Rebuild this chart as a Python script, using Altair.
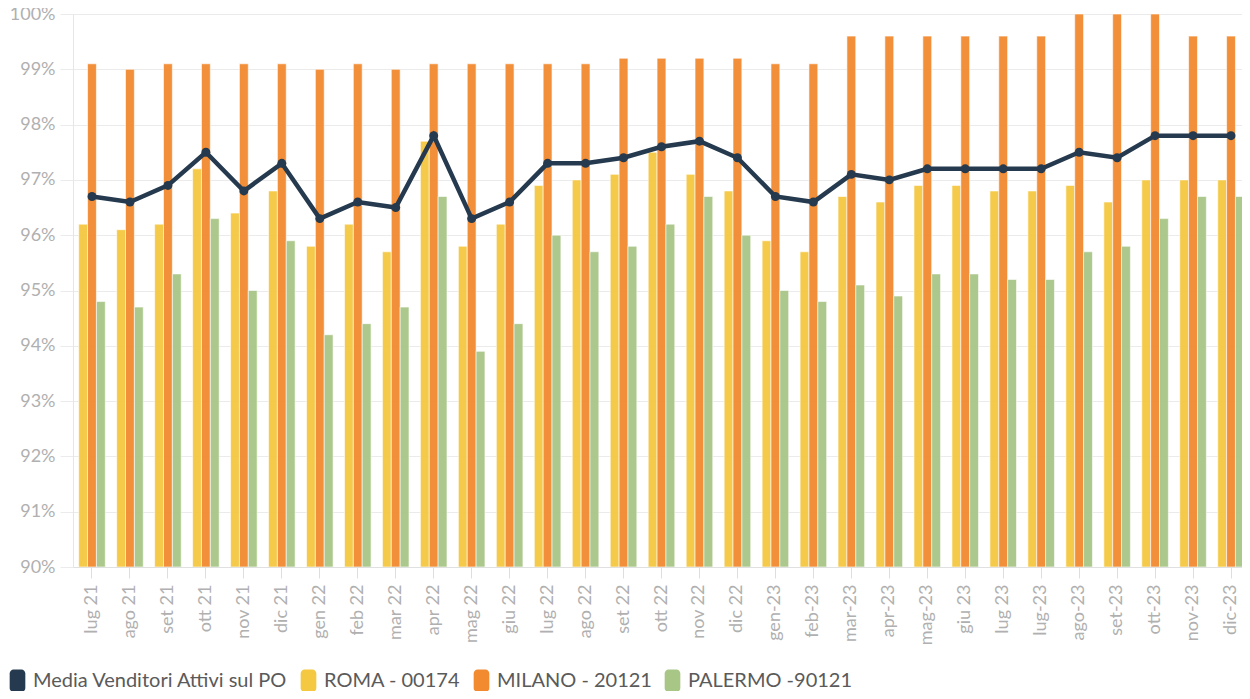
import altair as alt
import pandas as pd

months = ["lug 21", "ago 21", "set 21", "ott 21", "nov 21", "dic 21", "gen 22", "feb 22",
          "mar 22", "apr 22", "mag 22", "giu 22", "lug 22", "ago 22", "set 22", "ott 22",
          "nov 22", "dic 22", "gen-23", "feb-23", "mar-23", "apr-23", "mag-23", "giu 23",
          "lug 23", "lug-23", "ago-23", "set-23", "ott-23", "nov-23", "dic-23"]

media = [96.7, 96.6, 96.9, 97.5, 96.8, 97.3, 96.3, 96.6, 96.5, 97.8, 96.3, 96.6, 97.3, 97.3,
         97.4, 97.6, 97.7, 97.4, 96.7, 96.6, 97.1, 97.0, 97.2, 97.2, 97.2, 97.2, 97.5, 97.4,
         97.8, 97.8, 97.8]
roma = [96.2, 96.1, 96.2, 97.2, 96.4, 96.8, 95.8, 96.2, 95.7, 97.7, 95.8, 96.2, 96.9, 97.0,
        97.1, 97.5, 97.1, 96.8, 95.9, 95.7, 96.7, 96.6, 96.9, 96.9, 96.8, 96.8, 96.9, 96.6,
        97.0, 97.0, 97.0]
milano = [99.1, 99.0, 99.1, 99.1, 99.1, 99.1, 99.0, 99.1, 99.0, 99.1, 99.1, 99.1, 99.1, 99.1,
          99.2, 99.2, 99.2, 99.2, 99.1, 99.1, 99.6, 99.6, 99.6, 99.6, 99.6, 99.6, 100.0, 100.0,
          100.0, 99.6, 99.6]
palermo = [94.8, 94.7, 95.3, 96.3, 95.0, 95.9, 94.2, 94.4, 94.7, 96.7, 93.9, 94.4, 96.0, 95.7,
           95.8, 96.2, 96.7, 96.0, 95.0, 94.8, 95.1, 94.9, 95.3, 95.3, 95.2, 95.2, 95.7, 95.8,
           96.3, 96.7, 96.7]

series_names = ["Media Venditori Attivi sul PO", "ROMA - 00174", "MILANO - 20121", "PALERMO -90121"]
series_colors = ["#253A4E", "#F5C842", "#F28A30", "#A8C686"]

rows = []
for i, m in enumerate(months):
    rows.append({"mese": m, "serie": series_names[1], "valore": roma[i], "ord": 0})
    rows.append({"mese": m, "serie": series_names[2], "valore": milano[i], "ord": 1})
    rows.append({"mese": m, "serie": series_names[3], "valore": palermo[i], "ord": 2})
bars_df = pd.DataFrame(rows)
line_df = pd.DataFrame({"mese": months, "valore": media, "serie": series_names[0]})

FONT = "Lato"
GRID = "#ebebeb"

x_enc = alt.X("mese:N", sort=months, title=None,
              scale=alt.Scale(paddingInner=0.3, paddingOuter=0.15),
              axis=alt.Axis(labelAngle=-90, labelFontSize=18, labelColor="#b0b0b0",
                            labelFont=FONT, tickColor="#dedede", tickSize=11,
                            domainColor="#e0e0e0", labelPadding=6, grid=False))
y_scale = alt.Scale(domain=[90, 100], zero=False, nice=False, clamp=True)
y_axis = alt.Axis(values=list(range(90, 101)), labelExpr="datum.value + '%'",
                  labelFontSize=18, labelColor="#b0b0b0", labelFont=FONT,
                  ticks=True, tickSize=13, tickColor=GRID,
                  labelPadding=5, domain=True, domainColor="#e6e6e6",
                  gridColor=GRID, gridWidth=1)
color_scale = alt.Scale(domain=series_names, range=series_colors)

legend = alt.Legend(
    title=None, orient="none", legendX=-67, legendY=655, direction="horizontal",
    symbolType="M-0.7,-0.65 A0.35,0.35 0 0 1 -0.35,-1 L0.35,-1 A0.35,0.35 0 0 1 0.7,-0.65 "
               "L0.7,0.65 A0.35,0.35 0 0 1 0.35,1 L-0.35,1 A0.35,0.35 0 0 1 -0.7,0.65 Z",
    symbolSize=500, symbolStrokeWidth=0, symbolOpacity=1,
    labelFontSize=20, labelColor="#5a5a5a", labelFont=FONT, labelOffset=4,
    columnPadding=9, labelLimit=400)

bars = alt.Chart(bars_df).mark_bar(stroke="white", strokeWidth=1, strokeOpacity=0.6,
                                   opacity=0.95, clip=True).encode(
    x=x_enc,
    xOffset=alt.XOffset("ord:O", scale=alt.Scale(paddingInner=0, paddingOuter=0)),
    y=alt.Y("valore:Q", scale=y_scale, axis=y_axis, title=None),
    y2=alt.datum(90),
    color=alt.Color("serie:N", scale=color_scale, legend=legend),
)

line = alt.Chart(line_df).mark_line(strokeWidth=4.5, color="#253A4E").encode(
    x=alt.X("mese:N", sort=months),
    y=alt.Y("valore:Q", scale=y_scale),
    color=alt.Color("serie:N", scale=color_scale, legend=legend),
)
points = alt.Chart(line_df).mark_circle(size=80, opacity=1, color="#253A4E").encode(
    x=alt.X("mese:N", sort=months),
    y=alt.Y("valore:Q", scale=y_scale),
)

chart = alt.layer(bars, line, points).properties(
    width=1177, height=553,
    autosize=alt.AutoSizeParams(type="none"),
    padding={"left": 65, "top": 6, "right": -8, "bottom": 124},
).configure_view(stroke=None).configure(font=FONT)

chart.save("out.html", embed_options={"renderer": "svg", "actions": False})
